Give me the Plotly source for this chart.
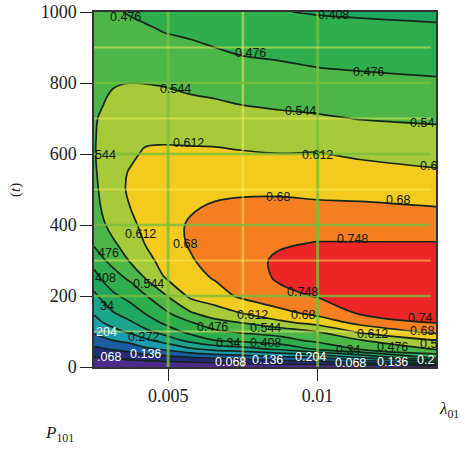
import plotly.graph_objects as go

lam = [.00252, .00283, .00316, .00373, .00423, .00483, .00574, .00657, .00741, .00875, .00998, .01142, .01396]
t = [0, 10, 25, 50, 75, 100, 125, 150, 200, 250, 300, 350, 400, 450, 500, 550, 600, 650, 700, 750, 800, 850, 900, 950, 1000]

c00 = [0, .024, .061, .12, .175, .216, .245, .276, .325, .38, .435, .487, .50, .515, .525, .535, .54, .54, .54, .535, .53, .52, .51, .50, .49]
c01 = [0, .025, .063, .13, .188, .235, .272, .30, .36, .42, .47, .51, .537, .555, .565, .565, .562, .557, .55, .542, .53, .52, .51, .50, .49]
c02 = [0, .027, .068, .14, .204, .252, .295, .333, .395, .45, .495, .537, .565, .58, .59, .59, .585, .575, .565, .553, .54, .527, .515, .50, .485]
c03 = [0, .034, .085, .16, .227, .285, .33, .37, .43, .487, .55, .575, .595, .612, .62, .616, .60, .585, .57, .555, .544, .53, .51, .495, .47]
c04 = [0, .038, .095, .19, .258, .325, .37, .408, .47, .544, .58, .615, .63, .64, .64, .635, .62, .60, .58, .56, .543, .525, .505, .485, .46]
c05 = [0, .043, .106, .21, .295, .365, .415, .453, .53, .607, .64, .655, .66, .658, .65, .64, .625, .60, .58, .56, .54, .52, .495, .473, .45]
c06 = [0, .049, .125, .26, .36, .43, .47, .532, .625, .655, .675, .685, .685, .675, .66, .64, .622, .60, .57, .552, .53, .51, .49, .46, .44]
c07 = [0, .057, .14, .29, .408, .465, .52, .578, .65, .685, .70, .70, .695, .686, .668, .64, .62, .60, .57, .547, .52, .497, .476, .452, .425]
c08 = [0, .068, .15, .31, .425, .485, .544, .607, .69, .712, .72, .715, .705, .69, .672, .645, .618, .59, .565, .538, .51, .49, .465, .44, .415]
c09 = [0, .085, .172, .35, .452, .505, .597, .657, .73, .757, .76, .74, .72, .695, .67, .645, .613, .585, .555, .532, .51, .482, .458, .435, .41]
c10 = [0, .092, .186, .415, .492, .546, .636, .695, .752, .785, .785, .75, .716, .691, .665, .64, .615, .584, .551, .524, .499, .473, .45, .427, .404]
c11 = [0, .119, .26, .48, .54, .625, .70, .752, .785, .80, .785, .75, .714, .69, .66, .632, .603, .572, .542, .518, .492, .468, .445, .423, .40]
c12 = [0, .18, .408, .55, .612, .70, .75, .765, .79, .80, .78, .75, .715, .681, .65, .618, .59, .562, .535, .51, .485, .46, .44, .418, .394]
columns = [c00, c01, c02, c03, c04, c05, c06, c07, c08, c09, c10, c11, c12]
z = [list(row) for row in zip(*columns)]

band_colors = ["#4b2a8c", "#262a7e", "#1c5ca4", "#1a9bb0", "#1ba58e", "#1fa75f", "#2fae4e",
               "#4db649", "#a6ca3a", "#f2cb1e", "#f57f20", "#ee2526"]
levels_start, levels_end, levels_step = 0.068, 0.748, 0.068

x_ticks = [0.005, 0.01]
x_tick_text = ["0.005", "0.01"]
x_minor = [0.0075]
y_ticks = [0, 200, 400, 600, 800, 1000]
y_grid_major = [200, 400, 600, 800]
y_grid_minor = [100, 300, 500, 700, 900]

W, H = 465, 451
L, R, T, B = 94, 436, 12, 367
labels_black = [
    ("0.476", 125, 17), ("0.408", 333, 15), ("0.476", 250, 53), ("0.476", 368, 72),
    ("0.544", 175, 89), ("0.544", 300, 111), ("0.54", 422, 123), ("0.612", 188, 143),
    ("0.612", 317, 155), ("0.6", 428, 166), ("544", 105, 155), ("0.68", 278, 197),
    ("0.68", 398, 200), ("0.612", 140, 234), ("0.68", 185, 244), ("476", 108, 253),
    ("408", 105, 278), ("0.544", 148, 284), ("34", 107, 306), ("0.272", 143, 337),
    ("0.612", 252, 315), ("0.476", 212, 327), ("0.544", 265, 328), ("0.34", 228, 343),
    ("0.408", 265, 343), ("0.748", 352, 239), ("0.748", 302, 292), ("0.68", 303, 315),
    ("0.74", 420, 318), ("0.68", 422, 331), ("0.612", 372, 334), ("0.476", 392, 347),
    ("0.34", 348, 350), ("0.5", 428, 344),
]
labels_white = [
    ("204", 106, 332), (".068", 109, 357), ("0.136", 145, 354), ("0.068", 230, 362),
    ("0.136", 267, 360), ("0.204", 310, 357), ("0.068", 350, 363), ("0.136", 392, 362),
    ("0.2", 425, 360),
]

n = len(band_colors)
colorscale = []
for i, c in enumerate(band_colors):
    colorscale += [[i / n, c], [(i + 1) / n, c]]

fig = go.Figure(go.Contour(
    x=lam, y=t, z=z,
    zmin=0, zmax=levels_step * n,
    colorscale=colorscale, showscale=False,
    autocontour=False,
    contours=dict(start=levels_start, end=levels_end, size=levels_step, coloring="fill"),
    line=dict(color="#14261a", width=1.7, smoothing=1),
    hoverinfo="skip",
))

shapes = []
def vline(v, color, w):
    shapes.append(dict(type="line", xref="x", yref="paper", x0=v, x1=v, y0=0, y1=1,
                       line=dict(color=color, width=w), layer="above"))
def hline(v, color, w):
    shapes.append(dict(type="line", xref="paper", yref="y", x0=0, x1=0.985, y0=v, y1=v,
                       line=dict(color=color, width=w), layer="above"))
major = "rgba(120,190,60,0.8)"
minor = "rgba(250,240,90,0.5)"
for v in x_ticks:
    vline(v, major, 3)
for v in x_minor:
    vline(v, minor, 2.5)
for v in y_grid_major:
    hline(v, major, 2.5)
for v in y_grid_minor:
    hline(v, minor, 2)

ann = []
def px_label(text, px, py, color, size=12.5):
    ann.append(dict(text=text, xref="paper", yref="paper", showarrow=False,
                    x=(px - L) / (R - L), y=(B - py) / (B - T),
                    xanchor="center", yanchor="middle",
                    font=dict(family="Liberation Sans", size=size, color=color)))
for s, px, py in labels_black:
    px_label(s, px, py, "#10180f")
for s, px, py in labels_white:
    px_label(s, px, py, "#ffffff")

serif = "Liberation Serif"
ann.append(dict(text="(<i>t</i>)", xref="paper", yref="paper", showarrow=False, textangle=-90,
                x=(15 - L) / (R - L), y=(B - 190) / (B - T), xanchor="center", yanchor="middle",
                font=dict(family=serif, size=15, color="#222")))
ann.append(dict(text="<i>λ</i><sub>01</sub>", xref="paper", yref="paper", showarrow=False,
                x=(449 - L) / (R - L), y=(B - 410) / (B - T), xanchor="center", yanchor="middle",
                font=dict(family=serif, size=17, color="#222")))
ann.append(dict(text="<i>P</i><sub>101</sub>", xref="paper", yref="paper", showarrow=False,
                x=(59 - L) / (R - L), y=(B - 434) / (B - T), xanchor="center", yanchor="middle",
                font=dict(family=serif, size=17, color="#222")))

fig.update_layout(
    width=W, height=H,
    margin=dict(l=L, r=W - R, t=T, b=H - B, autoexpand=False),
    paper_bgcolor="white", plot_bgcolor="white", showlegend=False,
    shapes=shapes, annotations=ann,
    font=dict(family=serif, size=18, color="#222"),
    xaxis=dict(range=[lam[0], lam[-1]], tickmode="array", tickvals=x_ticks, ticktext=x_tick_text,
               ticks="outside", ticklen=12, tickwidth=1.2, tickcolor="#222", showgrid=False, zeroline=False,
               showline=True, linecolor="#333", linewidth=1.5, mirror=True, tickfont=dict(size=18)),
    yaxis=dict(range=[0, 1000], tickmode="array", tickvals=y_ticks,
               ticks="outside", ticklen=12, tickwidth=1.2, tickcolor="#222", showgrid=False, zeroline=False,
               showline=True, linecolor="#333", linewidth=1.5, mirror=True, tickfont=dict(size=18)),
)
fig.write_html("out.html", config={"displayModeBar": False},
               post_script="document.body.style.margin='0';document.body.style.overflow='hidden';")
